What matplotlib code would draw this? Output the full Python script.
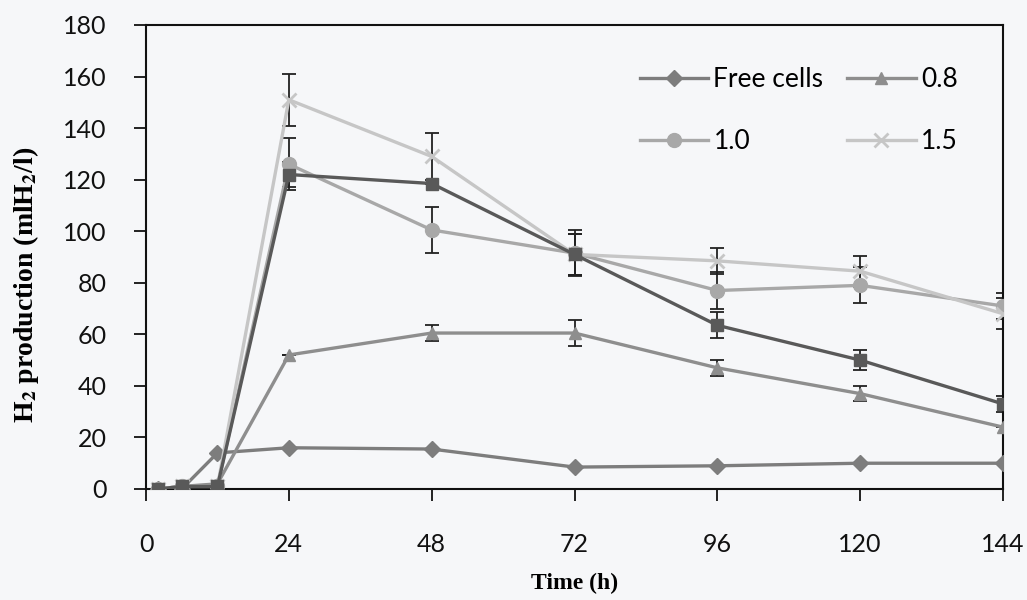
import numpy as np
import matplotlib
matplotlib.use("Agg")
import matplotlib.pyplot as plt

plt.rcParams['mathtext.fontset'] = 'stix'

time_h = [2, 6, 12, 24, 48, 72, 96, 120, 144]

free_cells = [0, 0, 14, 16, 15.5, 8.5, 9, 10, 10]
free_err = [0, 0, 0, 0, 0, 0, 0, 0, 0]

conc_08 = [0, 1, 2, 52, 60.5, 60.5, 47, 37, 24]
err_08 = [0, 0, 0, 0, 3, 5, 3, 3, 0]

conc_10 = [0, 1, 1, 126, 100.5, 91.5, 77, 79, 71]
err_10 = [0, 0, 0, 10, 9, 9, 7, 7, 5]

conc_15 = [0, 1, 1, 151, 129, 91, 88.5, 84.5, 68]
err_15 = [0, 0, 0, 10, 9, 8, 5, 6, 6]

conc_sq = [0, 1, 1, 122, 118.5, 91, 63.5, 50, 33]
err_sq = [0, 0, 0, 5, 0, 8, 5, 4, 3]

x_ticks = [0, 24, 48, 72, 96, 120, 144]
y_ticks = [0, 20, 40, 60, 80, 100, 120, 140, 160, 180]

series = [
    (free_cells, free_err, 'D', '#7d7d7d', 'Free cells', 8),
    (conc_08, err_08, '^', '#8e8e8e', '0.8', 9),
    (conc_10, err_10, 'o', '#a8a8a8', '1.0', 10),
    (conc_15, err_15, 'x', '#c6c6c6', '1.5', 10),
    (conc_sq, err_sq, 's', '#595959', None, 9),
]

bg = '#f6f7f9'
fig = plt.figure(figsize=(10.27, 6.0), dpi=100, facecolor=bg)
ax = fig.add_axes([146 / 1027, 1 - 489 / 600, 857 / 1027, 464 / 600], facecolor=bg)

lines = {}
for vals, errs, mk, col, lab, ms in series:
    ax.errorbar(time_h, vals, yerr=errs, fmt='none', ecolor='#222222',
                elinewidth=1.3, capsize=5, capthick=1.3, zorder=2)
    ln, = ax.plot(time_h, vals, marker=mk, color=col, lw=2.4, ms=ms,
                  mew=2 if mk == 'x' else 1, mec=col, mfc=col, zorder=3)
    if lab is not None:
        ln.set_label(lab)
        lines[lab] = ln

ax.set_xlim(0, 144)
ax.set_ylim(0, 180)
ax.set_xticks(x_ticks)
ax.set_yticks(y_ticks)
tick_font = dict(family='Lato', size=18, color='#1a1a1a')
ax.set_xticklabels([str(t) for t in x_ticks], **tick_font)
ax.set_yticklabels([str(t) for t in y_ticks], **tick_font)
ax.tick_params(direction='out', length=8.5, width=1.3, colors='#111111')
ax.tick_params(axis='x', pad=23)
ax.tick_params(axis='y', pad=20)
for sp in ax.spines.values():
    sp.set_linewidth(1.5)
    sp.set_color('#111111')

ax.set_xlabel('Time (h)', family='Liberation Serif', weight='bold', size=17)
ax.set_ylabel(r'H$_\mathbf{2}$ production (mlH$_\mathbf{2}$/l)', family='Liberation Serif',
              weight='bold', size=20)
ax.xaxis.set_label_coords(0.5, -0.18)
ax.yaxis.set_label_coords(-0.123, 0.44)

# legend fills column-wise, so order gives rows: Free cells/0.8, 1.0/1.5
order = ['Free cells', '1.0', '0.8', '1.5']
ax.legend(handles=[lines[k] for k in order], ncol=2, loc='upper right',
          bbox_to_anchor=(0.975, 0.96), frameon=False,
          prop=dict(family='Lato', size=19),
          handlelength=2.6, handletextpad=0.2, columnspacing=0.9, labelspacing=1.4)

fig.savefig('out.png', dpi=100, facecolor=bg)
